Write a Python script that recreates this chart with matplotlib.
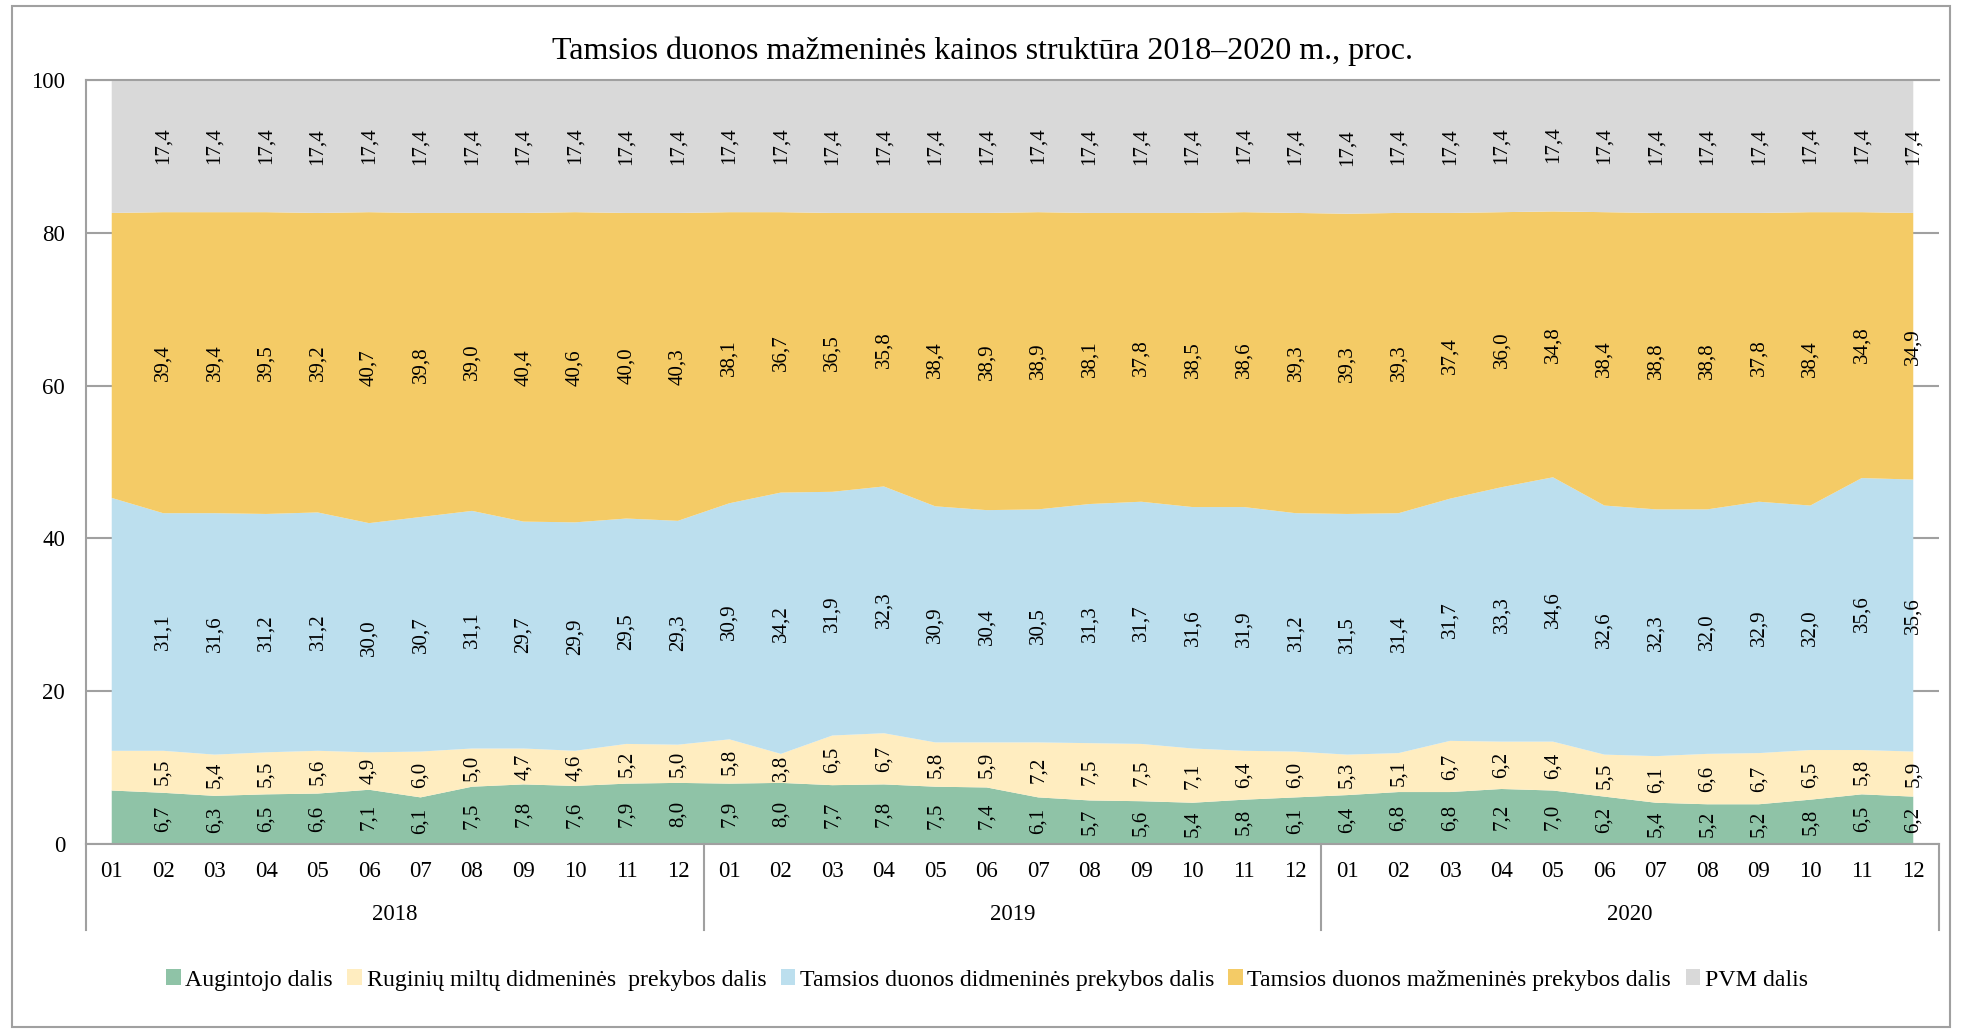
import numpy as np
import matplotlib
matplotlib.use("Agg")
import matplotlib.pyplot as plt
from matplotlib.patches import Patch, Rectangle

plt.rcParams['font.family'] = ['Liberation Serif', 'DejaVu Serif']

months = ["01", "02", "03", "04", "05", "06", "07", "08", "09", "10", "11", "12"]
years = ["2018", "2019", "2020"]

augintojo = [7.0, 6.7, 6.3, 6.5, 6.6, 7.1, 6.1, 7.5, 7.8, 7.6, 7.9, 8.0,
             7.9, 8.0, 7.7, 7.8, 7.5, 7.4, 6.1, 5.7, 5.6, 5.4, 5.8, 6.1,
             6.4, 6.8, 6.8, 7.2, 7.0, 6.2, 5.4, 5.2, 5.2, 5.8, 6.5, 6.2]
ruginiu = [5.2, 5.5, 5.4, 5.5, 5.6, 4.9, 6.0, 5.0, 4.7, 4.6, 5.2, 5.0,
           5.8, 3.8, 6.5, 6.7, 5.8, 5.9, 7.2, 7.5, 7.5, 7.1, 6.4, 6.0,
           5.3, 5.1, 6.7, 6.2, 6.4, 5.5, 6.1, 6.6, 6.7, 6.5, 5.8, 5.9]
didmenines = [33.1, 31.1, 31.6, 31.2, 31.2, 30.0, 30.7, 31.1, 29.7, 29.9, 29.5, 29.3,
              30.9, 34.2, 31.9, 32.3, 30.9, 30.4, 30.5, 31.3, 31.7, 31.6, 31.9, 31.2,
              31.5, 31.4, 31.7, 33.3, 34.6, 32.6, 32.3, 32.0, 32.9, 32.0, 35.6, 35.6]
mazmenines = [37.3, 39.4, 39.4, 39.5, 39.2, 40.7, 39.8, 39.0, 40.4, 40.6, 40.0, 40.3,
              38.1, 36.7, 36.5, 35.8, 38.4, 38.9, 38.9, 38.1, 37.8, 38.5, 38.6, 39.3,
              39.3, 39.3, 37.4, 36.0, 34.8, 38.4, 38.8, 38.8, 37.8, 38.4, 34.8, 34.9]
pvm = [17.4] * 36

series = [augintojo, ruginiu, didmenines, mazmenines, pvm]
names = ["Augintojo dalis", "Ruginių miltų didmeninės  prekybos dalis",
         "Tamsios duonos didmeninės prekybos dalis",
         "Tamsios duonos mažmeninės prekybos dalis", "PVM dalis"]
colors = ["#8FC3A7", "#FFEDC0", "#BCDFEE", "#F4CB66", "#D9D9D9"]
gridc = "#A0A0A0"

W, H = 1961, 1032
fig = plt.figure(figsize=(W / 100, H / 100), dpi=100)
x0, x1, ytop, ybot = 86, 1939, 80, 844
ax = fig.add_axes([x0 / W, 1 - ybot / H, (x1 - x0) / W, (ybot - ytop) / H])

x = np.arange(36)
ax.stackplot(x, *series, colors=colors, labels=names)

ax.set_xlim(-0.5, 35.5)
ax.set_ylim(0, 100)
ax.set_yticks([0, 20, 40, 60, 80, 100])
ax.set_axisbelow(True)
ax.yaxis.grid(True, color=gridc, lw=1.5)
ax.tick_params(axis='y', length=0, pad=15, labelsize=16.5)
ax.set_xticks(x, months * 3)
ax.tick_params(axis='x', length=0, pad=12, labelsize=16.5)
ax.spines['right'].set_visible(False)
for s in ['left', 'bottom', 'top']:
    ax.spines[s].set_color(gridc)
    ax.spines[s].set_linewidth(1.5)

# data labels, centred in each band
bottom = np.zeros(36)
for vals in series:
    v = np.array(vals)
    for i in range(1, 36):
        ax.text(i, bottom[i] + v[i] / 2, f"{v[i]:.1f}".replace(".", ","),
                rotation=90, ha='center', va='center', fontsize=15)
    bottom += v

# year groups under the month labels
depth = (930 - ybot) / (ybot - ytop)
tr = ax.get_xaxis_transform()
for b in [-0.5, 11.5, 23.5, 35.5]:
    ax.plot([b, b], [0, -depth], color=gridc, lw=1.5, transform=tr, clip_on=False)
for k, yr in enumerate(years):
    ax.text(k * 12 + 5.5, -(914 - ybot) / (ybot - ytop), yr, transform=tr,
            ha='center', va='center', fontsize=16.5)

fig.text(982 / W, 1 - 51 / H, "Tamsios duonos mažmeninės kainos struktūra 2018–2020 m., proc.",
         ha='center', va='center', fontsize=23)

handles = [Patch(facecolor=c, edgecolor='none') for c in colors]
fig.legend(handles, names, loc='center', bbox_to_anchor=(987 / W, 1 - 980 / H),
           ncol=5, frameon=False, fontsize=17.2, handlelength=0.6, handleheight=0.6,
           handletextpad=0.2, columnspacing=0.6)

fig.patches.append(Rectangle((12 / W, 1 - 1027 / H), (1950 - 12) / W, (1027 - 6) / H,
                             transform=fig.transFigure, fill=False, edgecolor=gridc, lw=1.5))

fig.savefig("out.png", dpi=100)
